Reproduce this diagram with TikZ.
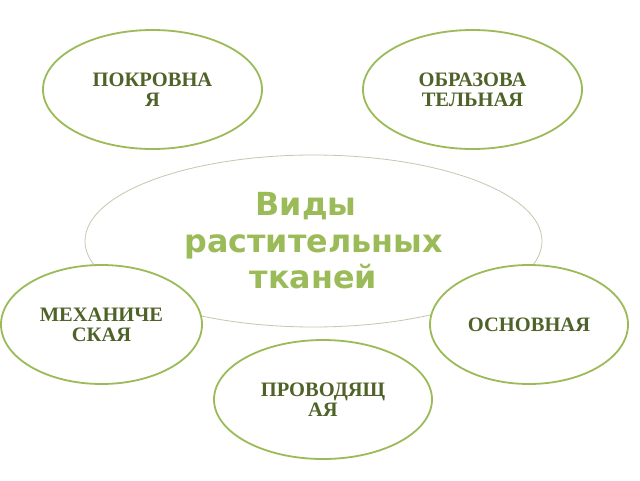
\documentclass[tikz,border=0pt]{standalone}
\usepackage{fontspec}
\setmainfont{Liberation Serif}
\newfontfamily\dejavu{DejaVu Sans}
\usetikzlibrary{shapes.geometric}
\definecolor{lgreen}{RGB}{155,187,89}
\definecolor{dgreen}{RGB}{79,98,40}
\definecolor{thinline}{RGB}{195,200,175}
\tikzset{
  leaf/.style={ellipse, draw=lgreen, line width=1.8pt, fill=white, inner sep=0pt,
    minimum width=219pt, minimum height=119pt, align=center, text=dgreen,
    font=\fontsize{20.5}{20}\selectfont\bfseries},
  hub/.style={ellipse, draw=thinline, line width=0.8pt, fill=white, inner sep=0pt,
    minimum width=457pt, minimum height=172pt, align=center, text=lgreen,
    font=\dejavu\fontsize{31.8}{36.5}\selectfont\bfseries}
}
\begin{document}
\begin{tikzpicture}[x=1pt,y=-1pt]
\useasboundingbox (0,0) rectangle (640,480);
\fill[white] (0,0) rectangle (640,480);
\node[hub] (hub) at (313.5,241) {Виды\kern15pt\null\\растительных\\тканей};
\node[leaf] (pokr) at (152.5,89.5) {ПОКРОВНА\\Я};
\node[leaf] (obr) at (472.5,89.5) {ОБРАЗОВА\\ТЕЛЬНАЯ};
\node[leaf, minimum width=201pt] (mech) at (101.5,324.5) {МЕХАНИЧЕ\\СКАЯ};
\node[leaf, minimum width=198pt] (osn) at (529,324.5) {ОСНОВНАЯ};
\node[leaf, minimum width=218pt] (prov) at (323,399.5) {ПРОВОДЯЩ\\АЯ};
\end{tikzpicture}
\end{document}
